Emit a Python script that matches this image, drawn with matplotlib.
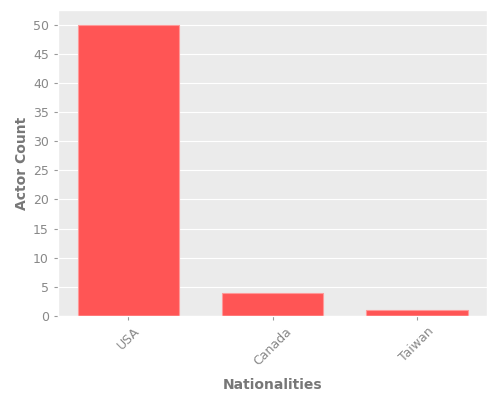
import matplotlib
matplotlib.use("Agg")
import matplotlib.pyplot as plt

plt.style.use("ggplot")

# data
nationalities = ["USA", "Canada", "Taiwan"]
actor_counts = [50, 4, 1]

fig, ax = plt.subplots(figsize=(5, 4), dpi=100)
ax.set_facecolor("#EBEBEB")
ax.bar(nationalities, actor_counts, width=0.7, color="#FF5555",
       edgecolor="#FF9999", linewidth=0.8)
ax.set_xlabel("Nationalities", fontsize=10, fontweight="bold", color="#777777", labelpad=7)
ax.set_ylabel("Actor Count", fontsize=10, fontweight="bold", color="#777777", labelpad=3)
ax.set_yticks(range(0, 51, 5))
ax.tick_params(axis="x", labelrotation=45)
ax.tick_params(colors="#999999", labelsize=9, length=3)
for lbl in ax.get_xticklabels() + ax.get_yticklabels():
    lbl.set_color("#888888")
ax.xaxis.grid(False)
ax.yaxis.grid(True, color="white", linewidth=0.8)

fig.subplots_adjust(left=0.116, right=0.974, top=0.975, bottom=0.21)
fig.savefig("out.png")
